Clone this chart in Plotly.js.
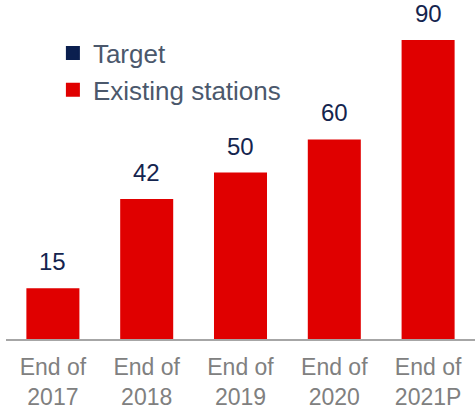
<!DOCTYPE html>
<html>
<head>
<meta charset="utf-8">
<script src="https://cdn.plot.ly/plotly-3.0.1.min.js"></script>
<style>html,body{margin:0;padding:0;background:#fff;}#chart{width:475px;height:409px;}</style>
</head>
<body>
<div id="chart"></div>
<script>
var categories = ["End of<br>2017", "End of<br>2018", "End of<br>2019", "End of<br>2020", "End of<br>2021P"];
var existingStations = [15, 42, 50, 60, 90];
var targetValues = [null, null, null, null, null];
var valueLabels = ["15", "42", "50", "60", "90"];

var font = "Arial, 'Liberation Sans', sans-serif";
var navy = "#0b1f4f";
var red = "#e00000";

var traces = [
  {type: "bar", name: "Target", x: categories, y: targetValues, marker: {color: navy, line: {color: navy, width: 2}}, legendgroup: "a", hoverinfo: "skip"},
  {type: "bar", name: "Existing stations", x: categories, y: existingStations, marker: {color: red, line: {color: red, width: 2}}, legendgroup: "b", hoverinfo: "skip"}
];

var annotations = categories.map(function (c, i) {
  return {x: c, y: existingStations[i], xref: "x", yref: "y", text: valueLabels[i], showarrow: false,
    yanchor: "bottom", yshift: 12, font: {family: font, size: 24, color: "#14244e"}};
});

var layout = {
  width: 475, height: 409,
  margin: {l: 6, r: 0, t: 8, b: 70},
  paper_bgcolor: "#fff", plot_bgcolor: "#fff",
  barmode: "overlay",
  bargap: 0.456,
  showlegend: true,
  legend: {x: 0.1, xanchor: "left", y: 0.935, yanchor: "top", bgcolor: "rgba(0,0,0,0)",
    font: {family: font, size: 26, color: "#4b586c"}, traceorder: "grouped", tracegroupgap: 0},
  xaxis: {type: "category", range: [-0.5, 4.5], showline: true, linecolor: "#a6a6a6", linewidth: 1.5,
    ticks: "", showgrid: false, zeroline: false, ticklabelstandoff: 7,
    tickfont: {family: font, size: 23, color: "#808080"}},
  yaxis: {range: [0, 100], visible: false, showgrid: false, zeroline: false},
  annotations: annotations
};

Plotly.newPlot("chart", traces, layout, {displayModeBar: false, staticPlot: true});
</script>
</body>
</html>
